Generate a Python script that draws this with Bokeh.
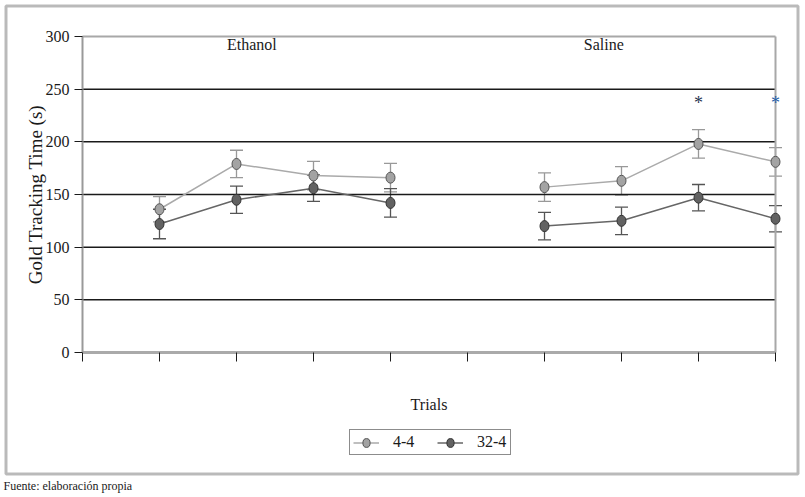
from bokeh.plotting import figure
from bokeh.models import (Range1d, FixedTicker, Whisker, TeeHead, ColumnDataSource,
                          Legend, LegendItem, Label, BoxAnnotation)
from bokeh.core.properties import value
from bokeh.embed import file_html
from bokeh.resources import INLINE

# ---- data ----
ethanol_trials = [1, 2, 3, 4]
saline_trials = [6, 7, 8, 9]
s44_ethanol = [136, 179, 168, 166]
s44_saline = [157, 163, 198, 181]
s44_err_ethanol = [12, 13, 13.5, 13.5]
s44_err_saline = [13.5, 13.5, 13.5, 13.5]
s324_ethanol = [122, 145, 156, 142]
s324_saline = [120, 125, 147, 127]
s324_err_ethanol = [14, 13, 12.5, 13.5]
s324_err_saline = [13, 13, 12.5, 12.5]
group_labels = ["Ethanol", "Saline"]
group_label_x = [2.2, 6.77]
group_label_y = [292, 292]
star_x = [8, 9]
star_y = [237, 237]
star_colors = ["#1f3550", "#1f5faa"]
y_ticks = [0, 50, 100, 150, 200, 250, 300]
x_ticks = [0, 1, 2, 3, 4, 5, 6, 7, 8, 9]
grid_ticks = [50, 100, 150, 200, 250]

SERIF = "Liberation Serif"
X0, X1 = x_ticks[0], x_ticks[-1]
Y0, Y1 = y_ticks[0], y_ticks[-1]

# ---- layout (pixels) ----
W, H = 805, 497
PX_X0, PX_X9 = 82, 775      # where x=0 and x=9 sit
PX_Y0, PX_YTOP = 352, 36    # where y=0 and y=300 sit
kx = (PX_X9 - PX_X0) / (X1 - X0)
ky = (PX_Y0 - PX_YTOP) / (Y1 - Y0)
x_range = Range1d(X0 - PX_X0 / kx, X1 + (W - PX_X9) / kx)
y_range = Range1d(Y0 - (H - PX_Y0) / ky, Y1 + PX_YTOP / ky)

p = figure(width=W, height=H, x_range=x_range, y_range=y_range,
           output_backend="svg", toolbar_location=None, min_border=0)
p.background_fill_color = "white"
p.border_fill_color = "white"
p.outline_line_color = None
p.xgrid.visible = False
p.ygrid.visible = False

# grid & frame lines (drawn from the tick values)
p.segment(x0=[X0] * len(grid_ticks), x1=[X1] * len(grid_ticks), y0=grid_ticks, y1=grid_ticks,
          line_color="#1a1a1a", line_width=1.5)
p.segment(x0=[X0], x1=[X1], y0=[Y1], y1=[Y1], line_color="#a8a8a8", line_width=2)
p.segment(x0=[X1], x1=[X1], y0=[Y0], y1=[Y1], line_color="#a8a8a8", line_width=2)

# y axis
yax = p.yaxis[0]
yax.fixed_location = X0
yax.bounds = (Y0, Y1)
yax.ticker = FixedTicker(ticks=y_ticks)
yax.axis_line_color = "#999999"
yax.axis_line_width = 2
yax.major_tick_line_color = "#1a1a1a"
yax.major_tick_out = 8
yax.major_tick_in = 0
yax.minor_tick_line_color = None
yax.major_label_text_font = SERIF
yax.major_label_text_font_size = "16px"
yax.major_label_text_color = "#1a1a1a"
yax.major_label_standoff = 5
yax.axis_label = "Gold Tracking Time (s)"
yax.axis_label_text_font = SERIF
yax.axis_label_text_font_size = "19px"
yax.axis_label_text_font_style = "normal"
yax.axis_label_text_color = "#1a1a1a"
yax.axis_label_standoff = -3

# x axis
xax = p.xaxis[0]
xax.fixed_location = Y0
xax.bounds = (X0, X1)
xax.ticker = FixedTicker(ticks=x_ticks)
xax.axis_line_color = "#aaaaaa"
xax.axis_line_width = 3
xax.major_tick_line_color = "#1a1a1a"
xax.major_tick_out = 9
xax.major_tick_in = 0
xax.minor_tick_line_color = None
xax.major_label_overrides = {t: "" for t in x_ticks}
xax.major_label_standoff = 0
xax.axis_label = "Trials"
xax.axis_label_text_font = SERIF
xax.axis_label_text_font_size = "16px"
xax.axis_label_text_font_style = "normal"
xax.axis_label_text_color = "#1a1a1a"
xax.axis_label_standoff = 34

nan = float("nan")
line_x = ethanol_trials + [nan] + saline_trials
all_x = ethanol_trials + saline_trials

series = [
    ("4-4", s44_ethanol, s44_saline, s44_err_ethanol, s44_err_saline, "#aaaaaa", "#a3a3a3", "#555555", "#999999"),
    ("32-4", s324_ethanol, s324_saline, s324_err_ethanol, s324_err_saline, "#666666", "#626262", "#333333", "#555555"),
]

items = []
for name, ye, ys, ee, es, lc, fc, oc, wc in series:
    yy = ye + ys
    ee_all = ee + es
    src = ColumnDataSource(data=dict(
        x=all_x, y=yy,
        lower=[v - e for v, e in zip(yy, ee_all)],
        upper=[v + e for v, e in zip(yy, ee_all)],
    ))
    w = Whisker(base="x", lower="lower", upper="upper", source=src, dimension="height",
                line_color=wc, line_width=1.3,
                upper_head=TeeHead(size=13, line_color=wc, line_width=1.3),
                lower_head=TeeHead(size=13, line_color=wc, line_width=1.3))
    p.add_layout(w)
    ln = p.line(line_x, ye + [nan] + ys, line_color=lc, line_width=1.5)
    mk = p.ellipse(x="x", y="y", width=9, height=11, width_units="screen", height_units="screen",
                   fill_color=fc, line_color=oc, line_width=1, source=src)
    items.append(LegendItem(label=name, renderers=[ln, mk]))

p.text(x=group_label_x, y=group_label_y, text=group_labels, text_font=value(SERIF),
       text_font_size="16px", text_align="center", text_baseline="middle", text_color="#1a1a1a")

star_src = ColumnDataSource(data=dict(x=star_x, y=star_y, c=star_colors, t=["*"] * len(star_x)))
p.text(x="x", y="y", text="t", text_color="c", source=star_src, text_font=value(SERIF),
       text_font_size="18px", text_align="center", text_baseline="middle")

legend = Legend(items=items, orientation="horizontal", location=(349, 42),
                label_text_font=SERIF, label_text_font_size="16px", label_text_color="#1a1a1a",
                glyph_width=26, glyph_height=11, label_height=11, label_width=30,
                label_standoff=14, spacing=14, padding=3, margin=0,
                border_line_color="#1a1a1a", border_line_width=1.5,
                background_fill_alpha=1.0)
p.add_layout(legend)

# outer frame
p.add_layout(BoxAnnotation(left=5.5, right=797.5, top=5.5, bottom=473.5,
                           left_units="canvas", right_units="canvas",
                           top_units="canvas", bottom_units="canvas",
                           fill_alpha=0, line_color="#1c1c1c", line_width=3))

p.add_layout(Label(x=3, y=5, x_units="screen", y_units="screen",
                   text="Fuente: elaboración propia", text_font=SERIF,
                   text_font_size="12px", text_color="#1a1a1a"))

open("out.html", "w").write(file_html(p, INLINE))
